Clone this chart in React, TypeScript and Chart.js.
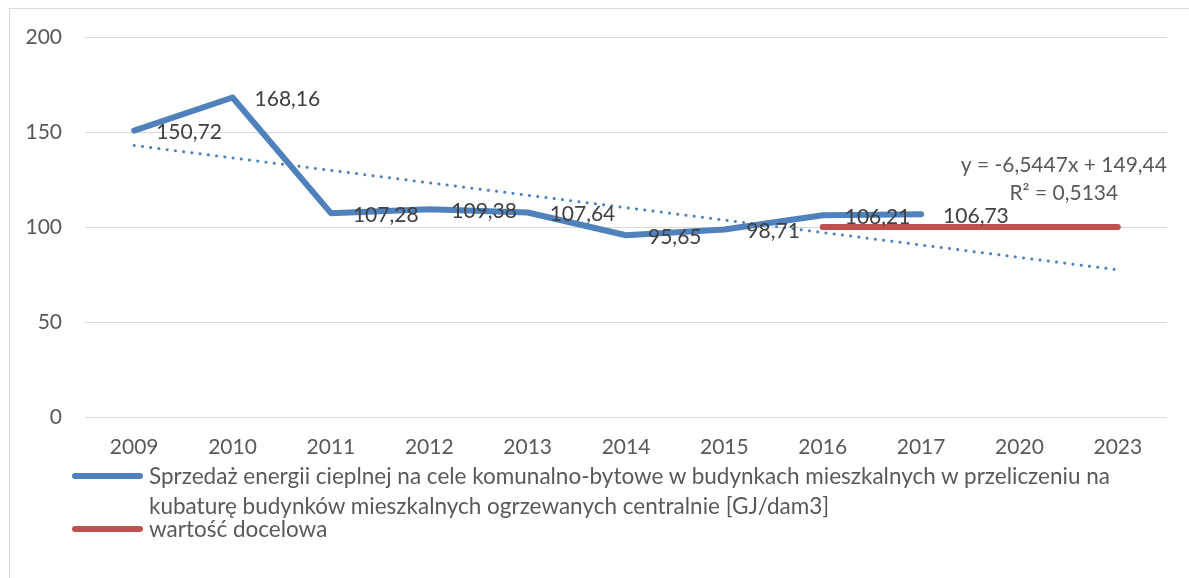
import React, { useEffect, useRef } from "react";
import { Chart, registerables } from "chart.js";

Chart.register(...registerables);

const CATEGORIES = ["2009", "2010", "2011", "2012", "2013", "2014", "2015", "2016", "2017", "2020", "2023"];
const SALES = [150.72, 168.16, 107.28, 109.38, 107.64, 95.65, 98.71, 106.21, 106.73, null, null];
const TARGET = [null, null, null, null, null, null, null, 100, 100, 100, 100];
const TREND = [142.9, null, null, null, null, null, null, null, null, null, 77.45];
const Y_TICKS = [0, 50, 100, 150, 200];
const SALES_LABEL =
  "Sprzedaż energii cieplnej na cele komunalno-bytowe w budynkach mieszkalnych w przeliczeniu na kubaturę budynków mieszkalnych ogrzewanych centralnie [GJ/dam3]";
const SALES_LABEL_LINES = [
  "Sprzedaż energii cieplnej na cele komunalno-bytowe w budynkach mieszkalnych w przeliczeniu na",
  "kubaturę budynków mieszkalnych ogrzewanych centralnie [GJ/dam3]",
];
const TARGET_LABEL = "wartość docelowa";
const EQUATION = "y = -6,5447x + 149,44";
const R2 = "R² = 0,5134";

const FONT = "Lato, 'Open Sans', sans-serif";
const BLUE = "#4f81bd";
const RED = "#c0504d";
const TEXT = "#595959";
const LABEL_TEXT = "#404040";

const labelsPlugin = {
  id: "customLabels",
  afterDatasetsDraw(chart: any) {
    const ctx = chart.ctx;
    const meta = chart.getDatasetMeta(0);
    ctx.save();
    ctx.font = `21px ${FONT}`;
    ctx.fillStyle = LABEL_TEXT;
    ctx.textAlign = "left";
    ctx.textBaseline = "middle";
    meta.data.forEach((pt: any, i: number) => {
      const v = SALES[i];
      if (v == null) return;
      ctx.fillText(v.toFixed(2).replace(".", ","), pt.x + 22, pt.y + 2);
    });
    // trendline equation
    const xs = chart.scales.x;
    const ys = chart.scales.y;
    const cx = xs.getPixelForValue(CATEGORIES.length - 1) - 54;
    ctx.fillStyle = TEXT;
    ctx.textAlign = "center";
    ctx.fillText(EQUATION, cx, ys.getPixelForValue(100) - 62);
    ctx.fillText(R2, cx, ys.getPixelForValue(100) - 34);
    ctx.restore();
  },
};

export default function App() {
  const ref = useRef<HTMLCanvasElement | null>(null);
  useEffect(() => {
    if (!ref.current) return;
    const chart = new Chart(ref.current, {
      type: "line",
      data: {
        labels: CATEGORIES,
        datasets: [
          {
            label: SALES_LABEL,
            data: SALES,
            borderColor: BLUE,
            backgroundColor: BLUE,
            borderWidth: 6,
            pointRadius: 0,
            borderCapStyle: "round",
            borderJoinStyle: "round",
            tension: 0,
            order: 2,
          },
          {
            label: TARGET_LABEL,
            data: TARGET,
            borderColor: RED,
            backgroundColor: RED,
            borderWidth: 6,
            pointRadius: 0,
            borderCapStyle: "round",
            tension: 0,
            order: 1,
          },
          {
            label: "Trend",
            data: TREND,
            borderColor: BLUE,
            borderWidth: 3,
            borderDash: [0.1, 8.2],
            borderCapStyle: "round",
            pointRadius: 0,
            spanGaps: true,
            tension: 0,
            order: 3,
          },
        ],
      },
      options: {
        animation: false,
        responsive: false,
        devicePixelRatio: 1,
        layout: { padding: { left: 0, top: 37, right: 22, bottom: 0 } },
        plugins: { legend: { display: false }, tooltip: { enabled: false } },
        scales: {
          x: {
            type: "category",
            offset: true,
            grid: { display: false, drawTicks: false },
            border: { display: false },
            ticks: { color: TEXT, font: { family: FONT, size: 21 }, padding: 18, maxRotation: 0, autoSkip: false },
            afterFit: (axis: any) => {
              axis.height = 161;
            },
          },
          y: {
            min: 0,
            max: 200,
            afterBuildTicks: (axis: any) => {
              axis.ticks = Y_TICKS.map((v) => ({ value: v }));
            },
            grid: { color: "#d9d9d9", lineWidth: 1, drawTicks: false },
            border: { display: false },
            ticks: { color: TEXT, font: { family: FONT, size: 21 }, padding: 23 },
            afterFit: (axis: any) => {
              axis.width = 85;
            },
          },
        },
      },
      plugins: [labelsPlugin],
    });
    return () => chart.destroy();
  }, []);

  const legendLine = (color: string, top: number) => (
    <div
      style={{
        position: "absolute",
        left: 72,
        top: top - 3,
        width: 71,
        height: 6,
        borderRadius: 3,
        background: color,
      }}
    />
  );

  const legendText: React.CSSProperties = {
    position: "absolute",
    left: 149,
    fontFamily: FONT,
    fontSize: 22.5,
    lineHeight: "30px",
    color: TEXT,
    whiteSpace: "nowrap",
  };

  return (
    <div
      style={{
        position: "fixed",
        left: 0,
        top: 0,
        width: 1189,
        height: 578,
        overflow: "hidden",
        background: "#fff",
      }}
    >
      <div
        style={{
          position: "absolute",
          left: 9,
          top: 8,
          width: 1400,
          height: 800,
          border: "1px solid #d9d9d9",
        }}
      />
      <canvas ref={ref} width={1189} height={578} style={{ position: "absolute", left: 0, top: 0, width: 1189, height: 578 }} />
      {legendLine(BLUE, 476)}
      {legendLine(RED, 529)}
      <div style={{ ...legendText, top: 461 }}>
        {SALES_LABEL_LINES[0]}
        <br />
        {SALES_LABEL_LINES[1]}
      </div>
      <div style={{ ...legendText, top: 514 }}>{TARGET_LABEL}</div>
    </div>
  );
}
